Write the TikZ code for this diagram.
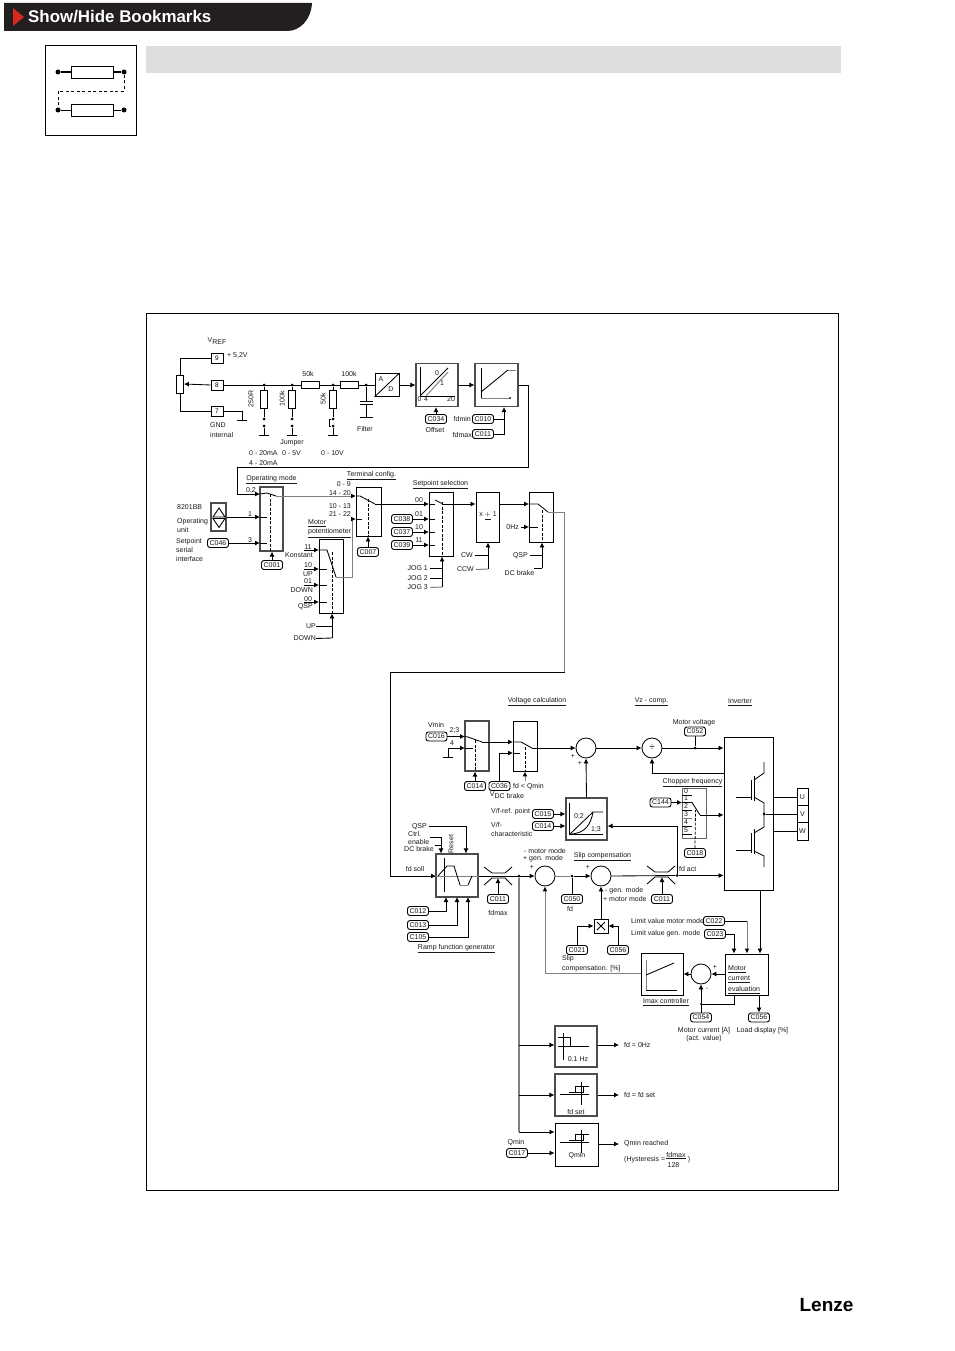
\documentclass[tikz,border=0pt]{standalone}
\usepackage{fontspec}
\setmainfont{Liberation Sans}
\usetikzlibrary{arrows.meta,calc}
\definecolor{headblack}{HTML}{231F20}
\definecolor{headred}{HTML}{D9281E}
\tikzset{
	wire/.style={line width=0.85pt},
	graywire/.style={line width=1pt, color=black!50},
	arr/.style={wire, -{Latex[length=5pt,width=5pt]}},
	grayarr/.style={graywire, -{Latex[length=5pt,width=5pt,color=black]}},
	swdash/.style={line width=0.8pt, dash pattern=on 3pt off 1.5pt},
	lbl/.style={inner sep=0pt, text=black!90, font=\fontsize{7}{8.5}\selectfont},
	lblw/.style={lbl, anchor=west},
	lble/.style={lbl, anchor=east},
	code/.style={draw, rounded corners=2.5pt, line width=0.9pt, minimum width=21pt, minimum height=9pt, inner sep=0pt, text=black!90, font=\fontsize{7}{8}\selectfont},
	pinbox/.style={draw, line width=0.85pt, minimum width=12pt, minimum height=10pt, inner sep=0pt, font=\fontsize{6.5}{8}\selectfont},
	resh/.style={draw, line width=0.85pt, minimum width=18pt, minimum height=7pt, inner sep=0pt},
	resv/.style={draw, line width=0.85pt, minimum width=7pt, minimum height=18pt, inner sep=0pt},
	dotnode/.style={circle, fill=black, minimum size=3pt, inner sep=0pt},
	block/.style 2 args={draw, line width=0.9pt, minimum width=#1, minimum height=#2, inner sep=0pt},
	grayblock/.style 2 args={draw=black!70, line width=1.1pt, minimum width=#1, minimum height=#2, inner sep=0pt},
	sumc/.style={draw, circle, line width=0.85pt, minimum size=20pt, inner sep=0pt},
}
\def\gndbar(#1,#2){\draw[wire] (#1-5,#2) -- (#1+5,#2);}
\def\limiter(#1,#2){\draw[wire] (#1-14,#2-9) -- (#1-6,#2-3) -- (#1+7,#2-3) -- (#1+14,#2-9); \draw[wire] (#1-14,#2+9) -- (#1-6,#2+2) -- (#1+7,#2+2) -- (#1+14,#2+9);}
\def\hystmark(#1,#2){\draw[wire] (#1+5,#2-13) -- (#1+5,#2+10); \draw[wire] (#1-16,#2-1) -- (#1+13,#2-1); \draw[wire] (#1-7,#2-3) -- (#1+7,#2-3) -- (#1+7,#2-9); \draw[wire] (#1+13,#2-9) -- (#1-1,#2-9) -- (#1-1,#2-3);}

\begin{document}
\begin{tikzpicture}[x=1pt,y=-1pt]
		\useasboundingbox (0,0) rectangle (954,1351);
		%%%%% START %%%%%

		% page head
		\fill[color=headblack] (4,3) -- (312,3) .. controls (311,20) and (300,31) .. (287,31) -- (4,31) -- cycle;
		\fill[color=headred] (13,8) -- (24,17) -- (13,26) -- cycle;
		\node[anchor=west, inner sep=0pt, text=white, font=\bfseries\fontsize{16.9}{18}\selectfont] (title) at (28,16.5) {Show/Hide Bookmarks};
		\fill[color=black!13] (146,46) rectangle (841,73);

		% icon
		\draw[line width=1pt] (45.5,45.5) rectangle (136.5,136);
		\node[resh, minimum width=42pt, minimum height=12pt] (iconA) at (92,72) {};
		\node[resh, minimum width=42pt, minimum height=12pt] (iconB) at (92,110) {};
		\node[dotnode, minimum size=5pt] (iconAl) at (58,72) {};
		\node[dotnode, minimum size=5pt] (iconAr) at (124,72) {};
		\node[dotnode, minimum size=5pt] (iconBl) at (58,110) {};
		\node[dotnode, minimum size=5pt] (iconBr) at (124,110) {};
		\draw[line width=1.4pt] (iconAl) -- (iconA.west);
		\draw[line width=1.4pt] (iconA.east) -- (iconAr);
		\draw[line width=0.9pt] (iconBl) -- (iconB.west);
		\draw[line width=0.9pt] (iconB.east) -- (iconBr);
		\coordinate (iconR) at (124,91);
		\coordinate (iconL) at (58,91);
		\draw[line width=0.8pt, dash pattern=on 3pt off 2.5pt] (iconAr) -- (iconR) -- (iconL) -- (iconBl);

		% frame
		\draw[line width=1pt] (146,313) rectangle (838,1190);

		% input terminals
		\node[lbl] (tVref) at (217,341) {V\raisebox{-2.5pt}{REF}};
		\node[pinbox] (pin9) at (217,358) {9};
		\node[pinbox] (pin8) at (217,385) {8};
		\node[pinbox] (pin7) at (217,411) {7};
		\node[lblw] (t52) at (227,356) {+ 5,2V};
		\node[draw, line width=0.85pt, minimum width=7pt, minimum height=18pt, inner sep=0pt] (pot) at (180,384) {};
		\draw[wire] (pot.north) |- (pin9.west);
		\draw[wire] (pot.south) |- (pin7.west);
		\draw[arr] (pin8.west) -- (pot.east);
		\coordinate (gnd7) at (242,420.5);
		\draw[wire] (pin7.east) -| (gnd7);
		\gndbar(242,420.5)
		\node[lblw, align=left] (tGnd) at (210,430) {GND\\[1.5pt]internal};

		% input filter
		\node[resh] (r50h) at (310,385) {};
		\node[resh] (r100h) at (349.5,385) {};
		\node[block={24pt}{23pt}] (ad) at (387,385) {};
		\draw[wire] (ad.north east) -- (ad.south west);
		\node[lbl] (tA) at (381,379) {A};
		\node[lbl] (tD) at (391,389.5) {D};
		\draw[wire] (pin8.east) -- (r50h.west);
		\draw[wire] (r50h.east) -- (r100h.west);
		\draw[wire] (r100h.east) -- (ad.west);
		\node[lbl] (t50k) at (308,374) {50k};
		\node[lbl] (t100k) at (349,374) {100k};

		\node[dotnode] (d250) at (264,385) {};
		\node[dotnode] (d100) at (292,385) {};
		\node[dotnode] (d50) at (333,385) {};
		\node[dotnode] (dcap) at (366,385) {};
		\node[resv] (r250) at (264,399) {};
		\node[resv] (r100) at (292,399) {};
		\node[resv] (r50) at (333,399) {};
		\node[dotnode] (j250a) at (264,419) {};
		\node[dotnode] (j250b) at (264,426) {};
		\node[dotnode] (j100a) at (292,419) {};
		\node[dotnode] (j100b) at (292,426) {};
		\node[dotnode] (j50a) at (333,419) {};
		\node[dotnode] (j50b) at (333,426) {};
		\coordinate (g250) at (264,435);
		\coordinate (g100) at (292,435);
		\coordinate (g50) at (333,435);
		\draw[wire] (d250) -- (r250.north);
		\draw[wire] (d100) -- (r100.north);
		\draw[wire] (d50) -- (r50.north);
		\draw[wire] (r250.south) -- (j250a);
		\draw[wire] (r100.south) -- (j100a);
		\draw[wire] (r50.south) -- (j50a);
		\draw[wire] (j250b) -- (g250);
		\draw[wire] (j100b) -- (g100);
		\draw[wire] (j50b) -- (g50);
		\draw[wire] (j50a) -- (329,419) -- (329,426) -- (j50b);
		\gndbar(264,435)
		\gndbar(292,435)
		\gndbar(333,435)
		\node[lbl, rotate=90] (t250R) at (251,399) {250R};
		\node[lbl, rotate=90] (t100kv) at (282,399) {100k};
		\node[lbl, rotate=90] (t50kv) at (323,399) {50k};
		\coordinate (capa) at (366,401);
		\coordinate (capb) at (366,404.5);
		\coordinate (capg) at (366,417);
		\draw[wire] (dcap) -- (capa);
		\draw[wire] (capb) -- (capg);
		\draw[line width=1pt] (359.5,401) -- (372.5,401);
		\draw[line width=1pt] (359.5,404.5) -- (372.5,404.5);
		\draw[wire] (359.5,417) -- (372.5,417);
		\node[lbl] (tFilter) at (365,429) {Filter};
		\node[lbl] (tJumper) at (292,443) {Jumper};
		\node[lblw] (t020) at (249,453) {0 - 20mA};
		\node[lblw] (t05) at (282,453) {0 - 5V};
		\node[lblw] (t010) at (321,453) {0 - 10V};
		\node[lblw] (t420) at (249,463) {4 - 20mA};

		% offset and limits
		\node[grayblock={42pt}{43pt}] (offs) at (437,385) {};
		\draw[wire] (420,367) -- (420,396) -- (455,396);
		\draw[wire] (420,396) -- (448,368);
		\draw[graywire] (426,396) -- (448,372);
		\node[lbl] (t0a) at (437,373) {0};
		\node[lbl] (t1a) at (442,383) {1};
		\node[lbl] (t0b) at (419.5,399.5) {0};
		\node[lbl] (t4b) at (426,399.5) {4};
		\node[lbl] (t20b) at (451,399.5) {20};
		\node[code] (c034) at (436,419) {C034};
		\node[lbl] (tOffset) at (435,430) {Offset};
		\draw[arr] (c034.north) -- (c034.north |- offs.south);
		\draw[arr] (ad.east) -- (offs.west);

		\node[grayblock={43pt}{43pt}] (lims) at (496.5,385) {};
		\draw[wire] (481,368) -- (481,398);
		\draw[graywire] (481,398) -- (510,398);
		\node[dotnode, minimum size=2pt] (limd) at (510,398) {};
		\draw[wire] (481,392) -- (508,370);
		\draw[graywire] (508,370) -- (516,370);
		\draw[arr] (offs.east) -- (lims.west);
		\node[code] (c010) at (483,419) {C010};
		\node[code] (c011) at (483,434) {C011};
		\node[lble] (tfdmin) at (471,418.5) {fdmin};
		\node[lble] (tfdmax) at (472,434.5) {fdmax};
		\coordinate (limj) at (504,419);
		\draw[wire] (c011.east) -| (limj);
		\draw[wire] (c010.east) -- (limj);
		\draw[arr] (limj) -- (limj |- lims.south);

		% operating mode
		\node[grayblock={23pt}{64pt}] (opm) at (271.5,519) {};
		\node[lbl] (tOpm) at (271.5,480) {\underline{Operating mode}};
		\coordinate (loopR) at (528.5,467);
		\coordinate (loopL) at (237,467);
		\coordinate (opin0) at (260,494);
		\coordinate (opin1) at (260,517);
		\coordinate (opin3) at (260,543);
		\draw[arr] (lims.east) -| (loopR) -- (loopL) |- (opin0);
		\node[lbl] (t02) at (251,490) {0,2};
		\node[lbl] (t1op) at (250,514) {1};
		\node[lbl] (t3op) at (250,540) {3};
		\node[grayblock={15pt}{28pt}] (opunit) at (218.5,517) {};
		\draw[wire] (213,517) -- (219,508) -- (225,517) -- cycle;
		\draw[wire] (213,518.5) -- (219,527.5) -- (225,518.5) -- cycle;
		\draw[arr] (opunit.east |- opin1) -- (opin1);
		\draw[wire] (opin1) -- (267,517);
		\node[lblw] (t8201) at (177,507) {8201BB};
		\node[lblw, align=left] (tOpunit) at (177,525.5) {Operating\\[1pt]unit};
		\node[lblw, align=left] (tSerial) at (176,550) {Setpoint\\[0.5pt]serial\\[0.5pt]interface};
		\node[code] (c046) at (218,543) {C046};
		\draw[arr] (c046.east) -- (opin3);
		\draw[wire] (opin3) -- (267,543);
		\coordinate (opsw0) at (267,493);
		\coordinate (opsw1) at (276,496);
		\draw[wire] (opin0) -- (opsw0) -- (opsw1);
		\draw[swdash] (270,494) -- (270,551);
		\node[code] (c001) at (272,565) {C001};
		\draw[arr] (c001.north) -- (c001.north |- opm.south);

		% terminal config
		\node[block={25pt}{49pt}] (tcfg) at (368.5,511.5) {};
		\node[lbl] (tTcfg) at (371.5,476) {\underline{Terminal config.}};
		\node[lble] (t09) at (351,484) {0 - 9};
		\node[lble] (t1420) at (351,493) {14 - 20};
		\node[lble] (t1013) at (351,506) {10 - 13};
		\node[lble] (t2122) at (351,514) {21 - 22};
		\coordinate (tcin0) at (356,496);
		\coordinate (tcin1) at (356,519);
		\draw[grayarr] (opsw1) -- (tcin0);
		\coordinate (tcsw0) at (360,496);
		\coordinate (tcsw1) at (375,504);
		\draw[wire] (tcin0) -- (tcsw0) -- (tcsw1);
		\draw[wire] (tcin1) -- (362,519);
		\draw[swdash] (368,499) -- (368,536);
		\node[code] (c007) at (368,552) {C007};
		\draw[arr] (c007.north) -- (c007.north |- tcfg.south);

		% motor potentiometer
		\node[block={24pt}{74pt}] (mpot) at (331,576) {};
		\node[lblw, align=left] (tMpot) at (308,528.5) {\underline{Motor}\\[1pt]\underline{potentiometer}};
		\coordinate (mp11) at (319,550);
		\coordinate (mp10) at (319,569);
		\coordinate (mp01) at (319,585);
		\coordinate (mp00) at (319,602);
		\coordinate (mps0) at (327,550);
		\coordinate (mps1) at (336,577);
		\coordinate (mpout) at (352,577);
		\draw[arr] (304,550) -- (mp11);
		\draw[arr] (304,569) -- (mp10);
		\draw[arr] (304,585) -- (mp01);
		\draw[arr] (304,602) -- (mp00);
		\draw[wire] (mp11) -- (mps0) -- (mps1);
		\draw[wire] (mp10) -- (327,569);
		\draw[wire] (mp01) -- (327,585);
		\draw[wire] (mp00) -- (327,602);
		\draw[swdash] (332,552) -- (332,613);
		\draw[graywire] (mps1) -- (mpout) -- (mpout |- tcin1);
		\draw[grayarr] (mpout |- tcin1) -- (tcin1);
		\node[lbl] (t11m) at (308,547) {11};
		\node[lble] (tKonst) at (313,555) {Konstant};
		\node[lbl] (t10m) at (308,565) {10};
		\node[lble] (tUPm) at (313,574) {UP};
		\node[lbl] (t01m) at (308,581) {01};
		\node[lble] (tDOWNm) at (313,590) {DOWN};
		\node[lbl] (t00m) at (308,599) {00};
		\node[lble] (tQSPm) at (313,607) {QSP};
		\node[lble] (tUPb) at (316,626) {UP};
		\node[lble] (tDOWNb) at (316,638.5) {DOWN};
		\coordinate (mpb) at (332,638);
		\draw[wire] (tUPb.east) -- (tUPb.east -| mpb);
		\draw[wire] (tDOWNb.east) -- (mpb);
		\draw[arr] (mpb) -- (mpb |- mpot.south);

		% setpoint selection
		\node[block={24pt}{64pt}] (ssel) at (441,524) {};
		\node[lbl] (tSsel) at (440.5,485) {\underline{Setpoint selection}};
		\coordinate (ss00) at (429,504);
		\draw[arr] (tcsw1) -- (ss00);
		\draw[wire] (ss00) -- (435,504);
		\coordinate (sssw0) at (435,500);
		\coordinate (sssw1) at (443,504);
		\draw[wire] (sssw0) -- (sssw1);
		\node[code] (c038) at (402,519) {C038};
		\node[code] (c037) at (402,532) {C037};
		\node[code] (c039) at (402,545) {C039};
		\coordinate (ss01) at (429,519);
		\coordinate (ss10) at (429,532);
		\coordinate (ss11) at (429,545);
		\draw[arr] (c038.east) -- (ss01);
		\draw[arr] (c037.east) -- (ss10);
		\draw[arr] (c039.east) -- (ss11);
		\draw[wire] (ss01) -- (435,519);
		\draw[wire] (ss10) -- (435,532);
		\draw[wire] (ss11) -- (435,545);
		\node[lbl] (t00s) at (419,500) {00};
		\node[lbl] (t01s) at (419,514) {01};
		\node[lbl] (t10s) at (419,527) {10};
		\node[lbl] (t11s) at (419,540) {11};
		\draw[swdash] (442,502) -- (442,556);
		\node[lble] (tJog1) at (428,568.5) {JOG 1};
		\node[lble] (tJog2) at (428,578.5) {JOG 2};
		\node[lble] (tJog3) at (428,587.5) {JOG 3};
		\coordinate (jogb) at (442,587);
		\draw[wire] (tJog1.east) ++(2,0) -- (tJog1.east -| jogb);
		\draw[wire] (tJog2.east) ++(2,0) -- (tJog2.east -| jogb);
		\draw[graywire] (tJog3.east) ++(2,0) -- (jogb);
		\draw[arr] (jogb) -- (jogb |- ssel.south);

		% direction
		\node[block={23pt}{50pt}] (dirb) at (487.5,517) {};
		\node[lbl] (tDir) at (488,516) {x $\underline{+}$ 1};
		\draw[arr] (sssw1) -- (sssw1 -| dirb.west);
		\node[lble] (tCW) at (473,555.5) {CW};
		\node[lble] (tCCW) at (474,569.5) {CCW};
		\coordinate (dirj) at (488,569);
		\draw[wire] (tCW.east) ++(2,0) -- (tCW.east -| dirj);
		\draw[graywire] (tCCW.east) ++(2,0) -- (dirj);
		\draw[arr] (dirj) -- (dirj |- dirb.south);

		% 0Hz switch
		\node[block={24pt}{50pt}] (qsw) at (541,517) {};
		\coordinate (qin0) at (529,504);
		\coordinate (qin1) at (529,527);
		\coordinate (qsw0) at (538,504);
		\coordinate (qsw1) at (548,512);
		\coordinate (qout) at (564.5,512);
		\draw[arr] (dirb.east |- qin0) -- (qin0);
		\draw[wire] (qin0) -- (qsw0) -- (qsw1);
		\node[lble] (t0Hz) at (519,527) {0Hz};
		\draw[arr] (t0Hz.east) ++(2,0) -- (qin1);
		\draw[wire] (qin1) -- (538,527);
		\draw[swdash] (542,510) -- (542,542);
		\node[lble] (tQSPq) at (528,555.5) {QSP};
		\node[lbl] (tDCq) at (519.5,573) {DC brake};
		\coordinate (qj) at (542,568);
		\draw[wire] (tQSPq.east) ++(2,0) -- (qj |- tQSPq.east);
		\draw[wire] (534,568) -- (qj);
		\draw[arr] (qj) -- (qj |- qsw.south);
		\coordinate (rtop) at (390,672);
		\coordinate (rin) at (436,876);
		\draw[graywire] (qsw1) -- (qout) -- (qout |- rtop);
		\draw[wire] (qout |- rtop) -- (rtop) |- (rin);

		% headings
		\node[lbl] (tVolt) at (537,702) {\underline{Voltage calculation}};
		\node[lbl] (tVz) at (651.5,702) {\underline{Vz - comp.}};
		\node[lbl] (tInv) at (740,702) {\underline{Inverter}};

		% voltage calculation
		\node[grayblock={24pt}{50pt}] (vb1) at (477,746) {};
		\node[block={24pt}{50pt}] (vb2) at (525,746) {};
		\node[lbl] (tVmin) at (436,725) {Vmin};
		\node[code] (c016) at (436.5,736.5) {C016};
		\node[lbl] (t23) at (454.5,730) {2;3};
		\node[lbl] (t4v) at (452,743) {4};
		\coordinate (vin0) at (465,736.5);
		\coordinate (vin1) at (465,748);
		\coordinate (vg) at (448,757);
		\draw[arr] (c016.east) -- (vin0);
		\draw[arr] (vg) |- (vin1);
		\draw[wire] (vin1) -- (473,748);
		\gndbar(448,757)
		\coordinate (vsw0) at (468,737);
		\coordinate (vsw1) at (482,742);
		\draw[wire] (vin0) -- (vsw0) -- (vsw1);
		\draw[swdash] (475,740) -- (475,771);
		\node[code] (c014a) at (475,786) {C014};
		\draw[arr] (c014a.north) -- (c014a.north |- vb1.south);
		\coordinate (v2in0) at (513,742);
		\coordinate (v2in1) at (513,753);
		\draw[arr] (vsw1) -- (v2in0);
		\coordinate (v2sw0) at (521,742);
		\coordinate (v2sw1) at (532,748);
		\draw[wire] (v2in0) -- (v2sw0) -- (v2sw1);
		\draw[wire] (v2in1) -- (520,753);
		\node[code] (c036) at (499.5,786) {C036};
		\draw[arr] (c036.north) |- (v2in1);
		\draw[swdash] (525,747) -- (525,771);
		\coordinate (qminj) at (525,781);
		\draw[grayarr] (qminj) -- (qminj |- vb2.south);
		\node[lblw] (tQmin) at (513,787) {fd < Qmin};
		\node[lbl] (tVdc) at (507,795) {V\raisebox{-2.5pt}{DC brake}};

		\node[sumc] (sum1) at (586,748) {};
		\node[lbl] (tp1a) at (573,756) {+};
		\node[lbl] (tp1b) at (580,763) {+};
		\draw[arr] (v2sw1) -- (sum1.west);
		\node[sumc] (divc) at (652,748) {\fontsize{10}{10}\selectfont ÷};
		\draw[arr] (sum1.east) -- (divc.west);
		\node[grayblock={41pt}{42pt}] (vfb) at (586.5,819) {};
		\draw[arr] (vfb.north) -- (sum1.south);
		\draw[wire] (569,803) -- (569,834) -- (603,834);
		\draw[wire] (570,834) -- (593,812) -- (603,812);
		\draw[wire] (570,834) .. controls (585,834) and (591,824) .. (593,812);
		\node[lbl] (t02c) at (579,816) {0;2};
		\node[lbl] (t13c) at (596,829) {1;3};
		\node[lblw] (tVfr) at (491,812) {V/f-ref. point};
		\node[lblw, align=left] (tVfc) at (491,829.5) {V/f-\\[1pt]characteristic};
		\node[code] (c015) at (543,814) {C015};
		\node[code] (c014b) at (543,826) {C014};
		\draw[arr] (c015.east) -- (c015.east -| vfb.west);
		\draw[arr] (c014b.east) -- (c014b.east -| vfb.west);

		% inverter
		\node[block={49pt}{153pt}] (inv) at (748.5,813.5) {};
		\node[dotnode] (dvolt) at (695,748) {};
		\draw[arr] (divc.east) -- (divc.east -| inv.west);
		\node[lbl] (tMvolt) at (694,723) {Motor voltage};
		\node[code] (c052) at (695,731.5) {C052};
		\draw[wire] (c052.south) -- (dvolt);
		\coordinate (invfb) at (724,773);
		\draw[arr] (invfb) -| (divc.south);
		\draw[wire] (736,797) -- (751,797);
		\draw[line width=1pt] (751,780) -- (751,800);
		\draw[wire] (754,776) -- (754,801);
		\draw[wire] (764,762) -- (764,773) -- (754,780);
		\draw[wire] (754,797) -- (764,803) -- (764,827) -- (754,833);
		\draw[wire] (736,850) -- (751,850);
		\draw[line width=1pt] (751,833) -- (751,853);
		\draw[wire] (754,829) -- (754,854);
		\draw[wire] (754,851) -- (764,856) -- (764,867);
		\node[dotnode] (duvw) at (764,814) {};

		\node[block={11pt}{52pt}] (uvw) at (802.5,814) {};
		\draw[wire] (797,805.5) -- (808,805.5);
		\draw[wire] (797,822.5) -- (808,822.5);
		\node[lbl] (tU) at (802.5,797) {U};
		\node[lbl] (tV) at (802.5,814) {V};
		\node[lbl] (tW) at (802.5,831) {W};
		\draw[wire] (inv.east |- tU) -- (uvw.west |- tU);
		\draw[wire] (duvw) -- (uvw.west |- tV);
		\draw[wire] (inv.east |- tW) -- (uvw.west |- tW);

		% chopper
		\node[lbl] (tChop) at (692.5,783) {\underline{Chopper frequency}};
		\node[draw=black!60, line width=0.8pt, minimum width=24pt, minimum height=50pt, inner sep=0pt] (chop) at (694,813) {};
		\draw[wire] (682,795) -- (692,795);
		\draw[wire] (682,810) -- (692,810);
		\draw[graywire] (682,818) -- (692,818);
		\draw[wire] (682,826) -- (692,826);
		\draw[wire] (682,834) -- (692,834);
		\node[lbl] (tc0) at (686,791.5) {0};
		\node[lbl] (tc1) at (686,798.5) {1};
		\node[lbl] (tc2) at (686,806) {2};
		\node[lbl] (tc3) at (686,814) {3};
		\node[lbl] (tc4) at (686,822.5) {4};
		\node[lbl] (tc5) at (686,830) {5};
		\node[code] (c144) at (660.5,802.5) {C144};
		\coordinate (chin) at (682,802.5);
		\coordinate (chsw0) at (692,802.5);
		\coordinate (chsw1) at (700,815);
		\draw[arr] (c144.east) -- (chin);
		\draw[wire] (chin) -- (chsw0) -- (chsw1);
		\draw[arr] (chsw1) -- (chsw1 -| inv.west);
		\node[code] (c018) at (695,853) {C018};
		\draw[swdash] (c018.north) -- (695.5,810);

		% ramp function generator
		\node[grayblock={42pt}{43pt}] (ramp) at (457,875.5) {};
		\draw[wire] (444,858) -- (444,892);
		\draw[graywire] (ramp.west |- rin) -- (ramp.east |- rin);
		\draw[wire] (438,876) -- (447,866) -- (454,866) -- (460,885);
		\draw[graywire] (460,885) -- (468,885);
		\draw[wire] (468,885) -- (472,876);
		\node[lble] (tQSPr) at (427,827) {QSP};
		\node[lblw] (tCtrl) at (408,834) {Ctrl.};
		\node[lblw] (tEnable) at (408,842) {enable};
		\node[lblw] (tDCr) at (404,849) {DC brake};
		\node[lbl, rotate=90] (tReset) at (451,844) {Reset};
		\coordinate (rq) at (466,826);
		\coordinate (rc) at (441,837);
		\draw[arr] (429,826) -- (rq) -- (rq |- ramp.north);
		\draw[wire] (430,837) -- (rc);
		\draw[wire] (435,845) -- (441,845);
		\draw[arr] (rc) -- (rc |- ramp.north);
		\node[lbl] (tSoll) at (415,869) {fd soll};
		\draw[arr] (rtop |- rin) -- (rin);
		\node[code] (c012) at (418,911) {C012};
		\node[code] (c013) at (418,925) {C013};
		\node[code] (c105) at (418,937) {C105};
		\coordinate (rb1) at (446,897);
		\coordinate (rb2) at (457,897);
		\coordinate (rb3) at (468,897);
		\draw[arr] (c012.east) -| (rb1);
		\draw[arr] (c013.east) -| (rb2);
		\draw[arr] (c105.east) -| (rb3);
		\node[lbl] (tRamp) at (456.5,949) {\underline{Ramp function generator}};
		\limiter(498,876)
		\node[code] (c011b) at (498,899) {C011};
		\coordinate (lima) at (498,878);
		\draw[arr] (c011b.north) -- (lima);
		\node[lbl] (tfdmaxb) at (498,913) {fdmax};

		% slip compensation
		\node[sumc] (sum2) at (545,876) {};
		\node[sumc] (sum3) at (601,876) {};
		\node[dotnode] (dbus) at (519,876) {};
		\draw[arr] (ramp.east |- rin) -- (sum2.west);
		\node[lblw] (tMm) at (524,851) {- motor mode};
		\node[lblw] (tGm) at (523,859) {+ gen. mode};
		\node[lbl] (tp2) at (532,867) {+};
		\node[lbl] (tp3) at (588,867) {+};
		\node[dotnode] (dfd) at (572,876) {};
		\draw[graywire] (sum2.east) -- (dfd);
		\draw[arr] (dfd) -- (sum3.west);
		\node[code] (c050) at (572,899) {C050};
		\draw[wire] (c050.north) -- (dfd);
		\node[lbl] (tfd) at (570,909) {fd};
		\node[lbl] (tSlip) at (602.5,857) {\underline{Slip compensation}};
		\node[block={14pt}{14pt}] (mulb) at (601,926) {};
		\draw[line width=1pt] (mulb.center) ++(-4,-4) -- ++(8,8);
		\draw[line width=1pt] (mulb.center) ++(-4,4) -- ++(8,-8);
		\draw[arr] (mulb.north) -- (sum3.south);
		\node[code] (c021) at (577,950) {C021};
		\node[code] (c056a) at (618,950) {C056};
		\draw[arr] (c021.north) |- (mulb.west);
		\draw[arr] (c056a.north) |- (mulb.east);
		\node[lblw, align=left] (tSlipc) at (562,963.5) {Slip\\[1.5pt]compensation. [\%]};
		\node[lblw] (tgm2) at (605,891) {- gen. mode};
		\node[lblw] (tmm2) at (603,899) {+ motor mode};

		% output limiter
		\limiter(661,875)
		\node[dotnode] (dact) at (677,875.5) {};
		\draw[wire] (sum3.east) -- (dact);
		\draw[graywire] (dact) -- (723,875.5);
		\draw[arr] (dact) -- (dact -| inv.west);
		\node[lblw] (tfdact) at (679,869) {fd act};
		\node[code] (c011c) at (662,899) {C011};
		\coordinate (limb) at (662,877);
		\draw[arr] (c011c.north) -- (limb);
		\coordinate (actup) at (677,826);
		\draw[wire] (dact) -- (actup);
		\draw[arr] (actup) -- (actup -| vfb.east);

		% imax
		\node[block={42pt}{42pt}] (imax) at (662,974) {};
		\draw[graywire] (646,960) -- (646,990);
		\draw[wire] (646,990) -- (677,990);
		\draw[wire] (646,975) -- (674,963);
		\node[lbl] (tImax) at (666,1002) {\underline{Imax controller}};
		\coordinate (slipl) at (545,973);
		\draw[graywire] (imax.west |- slipl) -- (slipl);
		\draw[grayarr] (slipl) -- (sum2.south);
		\node[sumc] (sum4) at (701,974) {};
		\node[lbl] (tp4) at (715,967) {+};
		\node[lbl] (tm4) at (707,989) {-};
		\node[block={43pt}{41pt}] (mce) at (746.5,974.5) {};
		\node[lblw, align=left] (tMce) at (728,979.5) {\underline{Motor}\\[2pt]\underline{current}\\[2pt]\underline{evaluation}};
		\draw[arr] (sum4.west) -- (sum4.west -| imax.east);
		\draw[arr] (mce.west |- sum4) -- (sum4.east);
		\node[lblw] (tLimm) at (631,921) {Limit value motor mode};
		\node[lblw] (tLimg) at (631,934) {Limit value gen. mode};
		\node[code] (c022) at (714,921) {C022};
		\node[code] (c023) at (715,934) {C023};
		\coordinate (lim1) at (747,921);
		\coordinate (lim2) at (734,934);
		\draw[wire] (c022.east) -- (lim1);
		\draw[grayarr] (lim1) -- (lim1 |- mce.north);
		\draw[wire] (c023.east) -- (lim2);
		\draw[arr] (lim2) -- (lim2 |- mce.north);
		\coordinate (invout) at (760,890);
		\draw[arr] (invout) -- (invout |- mce.north);
		\node[code] (c054) at (701,1017.5) {C054};
		\node[code] (c056b) at (759,1017.5) {C056};
		\node[dotnode, minimum size=2pt] (dcur) at (701,1004) {};
		\draw[arr] (c054.north) -- (sum4.south);
		\draw[wire] (mce.south -| lim2) |- (dcur);
		\draw[arr] (c056b.north |- mce.south) -- (c056b.north);
		\node[lbl, align=center] (tMcur) at (704,1034.5) {Motor current [A]\\[-0.5pt](act. value)};
		\node[lbl] (tLoad) at (762.5,1031) {Load display [\%]};

		% threshold blocks
		\coordinate (busb) at (519,1132);
		\draw[line width=1.1pt, color=black!50] (dbus) -- (busb);
		\node[grayblock={42pt}{41pt}] (th1) at (576,1046.5) {};
		\draw[arr] (busb |- 0,1045) -- (th1.west |- 0,1045);
		\draw[wire] (563,1033) -- (563,1060);
		\draw[wire] (558,1046) -- (589,1046);
		\draw[wire] (558,1037) -- (570,1037) -- (570,1046);
		\node[lbl] (t01Hz) at (578,1059) {0.1 Hz};
		\coordinate (o1) at (619,1045);
		\draw[arr] (th1.east |- o1) -- (o1);
		\node[lblw] (tfd0) at (624,1045) {fd = 0Hz};

		\node[grayblock={42pt}{42pt}] (th2) at (576,1095) {};
		\draw[arr] (busb |- 0,1095) -- (th2.west |- 0,1095);
		\hystmark(576,1095)
		\node[lbl] (tfdset) at (576,1112) {fd set};
		\coordinate (o2) at (619,1095);
		\draw[arr] (th2.east) -- (o2);
		\node[lblw] (tfds) at (624,1095) {fd = fd set};

		\node[block={43pt}{43pt}] (th3) at (576.5,1144.5) {};
		\draw[arr] (busb) -- (busb -| th3.west);
		\hystmark(576,1143)
		\node[lbl] (tqb) at (577,1156) {Qmin};
		\node[lbl] (tQmn) at (516,1143) {Qmin};
		\node[code] (c017) at (517,1153) {C017};
		\draw[arr] (c017.east) -- (c017.east -| th3.west);
		\coordinate (o3) at (619,1144);
		\draw[arr] (th3.east |- o3) -- (o3);
		\node[lblw] (tqr) at (624,1144) {Qmin reached};
		\node[lblw] (tHyst) at (624,1160) {(Hysteresis =};
		\node[lbl] (tfrac) at (676,1155.5) {\underline{fdmax}};
		\node[lbl] (t128) at (673.5,1165.5) {128};
		\node[lbl] (tclose) at (689,1160) {)};

		% logo
		\node[inner sep=0pt, font=\bfseries\fontsize{19}{20}\selectfont] (logo) at (826.5,1305) {Lenze};

		%%%%% END %%%%%
	\end{tikzpicture}
\end{document}
